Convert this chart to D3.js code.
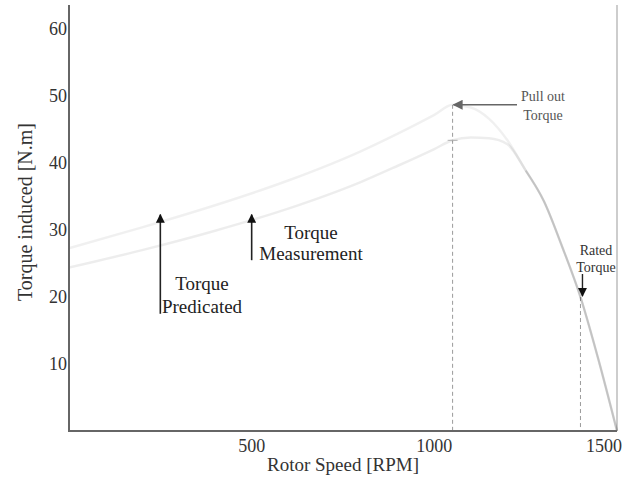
<!DOCTYPE html>
<html>
<head>
<meta charset="utf-8">
<script src="https://cdn.jsdelivr.net/npm/d3@7"></script>
<style>
  body { margin: 0; background: #fff; }
  text { font-family: "Liberation Serif", "DejaVu Serif", serif; }
</style>
</head>
<body>
<div id="chart"></div>
<script>
// rotor speed samples [RPM]
const speed = [0, 200, 400, 600, 800, 900, 1000, 1050, 1100, 1150, 1200, 1250, 1300, 1350, 1400, 1450, 1500];
// torque predicted (upper curve) [N.m]
const torquePredicted = [27.3, 30.4, 33.7, 37.4, 41.8, 44.4, 47.2, 48.7, 48.3, 46.6, 43.4, 38.9, 34.3, 27.5, 20, 10.5, 0];
// torque measured (lower curve) [N.m]
const torqueMeasured = [24.4, 27, 29.9, 33.2, 37.2, 39.6, 42.1, 43.4, 43.8, 43.7, 42.8, 38.9, 34.3, 27.5, 20, 10.5, 0];

const yTicks = [10, 20, 30, 40, 50, 60];
const xTicks = [500, 1000, 1500];

const pullOut = { speed: 1050, torque: 48.7, measured: 43.4 };
const rated = { speed: 1400, torque: 20 };
const arrowPred = { speed: 250, torque: 32.3, base: 17.5 };
const arrowMeas = { speed: 500, torque: 32.3, base: 25.5 };

const width = 638, height = 479;
const svg = d3.select('#chart').append('svg').attr('width', width).attr('height', height);

const x = d3.scaleLinear().domain([0, 1500]).range([69, 617]);
const y = d3.scaleLinear().domain([0, 63.6]).range([431, 5]);

const defs = svg.append('defs');
function marker(id, color, size) {
  defs.append('marker')
    .attr('id', id)
    .attr('viewBox', '0 0 10 10')
    .attr('refX', 9).attr('refY', 5)
    .attr('markerWidth', size).attr('markerHeight', size)
    .attr('markerUnits', 'userSpaceOnUse')
    .attr('orient', 'auto')
    .append('path').attr('d', 'M0,0 L10,5 L0,10 z').style('fill', color);
}
marker('ahBlack', '#111', 9);
marker('ahGray', '#666', 10);

// right border
svg.append('line')
  .attr('x1', x(1500)).attr('x2', x(1500)).attr('y1', 5).attr('y2', y(0))
  .style('stroke', '#bdbdbd').style('stroke-width', 1.5);

// dashed guide lines
svg.append('line')
  .attr('x1', x(pullOut.speed)).attr('x2', x(pullOut.speed))
  .attr('y1', y(pullOut.torque)).attr('y2', y(0))
  .style('stroke', '#9a9a9a').style('stroke-width', 1).style('stroke-dasharray', '4,3');
svg.append('line')
  .attr('x1', x(pullOut.speed) - 5).attr('x2', x(pullOut.speed) + 5)
  .attr('y1', y(pullOut.measured)).attr('y2', y(pullOut.measured))
  .style('stroke', '#bbb').style('stroke-width', 1);
svg.append('line')
  .attr('x1', x(rated.speed)).attr('x2', x(rated.speed))
  .attr('y1', y(rated.torque)).attr('y2', y(0))
  .style('stroke', '#9a9a9a').style('stroke-width', 1).style('stroke-dasharray', '4,3');

// curves
const line = d3.line()
  .x((d, i) => x(speed[i]))
  .y(d => y(d))
  .curve(d3.curveMonotoneX);

svg.append('path').datum(torquePredicted)
  .attr('d', line)
  .style('fill', 'none').style('stroke', 'rgba(0,0,0,0.06)').style('stroke-width', 2.5);
svg.append('path').datum(torqueMeasured)
  .attr('d', line)
  .style('fill', 'none').style('stroke', 'rgba(0,0,0,0.07)').style('stroke-width', 2.5);
// descending branch is drawn darker in the source
svg.append('path').datum(torqueMeasured.slice(11))
  .attr('d', d3.line().x((d, i) => x(speed[i + 11])).y(d => y(d)).curve(d3.curveMonotoneX))
  .style('fill', 'none').style('stroke', 'rgba(0,0,0,0.12)').style('stroke-width', 2);

// axes
svg.append('line')
  .attr('x1', x(0)).attr('x2', x(0)).attr('y1', 5).attr('y2', y(0))
  .style('stroke', '#666').style('stroke-width', 2);
svg.append('line')
  .attr('x1', x(0) - 1).attr('x2', x(1500)).attr('y1', y(0)).attr('y2', y(0))
  .style('stroke', '#666').style('stroke-width', 2);

svg.selectAll('.ytick')
  .data(yTicks)
  .enter()
  .append('text')
  .attr('class', 'ytick')
  .attr('x', 67)
  .attr('y', d => y(d))
  .attr('dy', '0.35em')
  .attr('text-anchor', 'end')
  .style('font-size', '18px')
  .style('fill', '#333')
  .text(d => d);

svg.selectAll('.xtick')
  .data(xTicks)
  .enter()
  .append('text')
  .attr('class', 'xtick')
  .attr('x', d => (d === 1500 ? x(d) - 13 : x(d)))
  .attr('y', 452)
  .attr('text-anchor', 'middle')
  .style('font-size', '18px')
  .style('fill', '#333')
  .text(d => d);

svg.append('text')
  .attr('x', 343).attr('y', 471)
  .attr('text-anchor', 'middle')
  .style('font-size', '19px')
  .style('fill', '#333')
  .text('Rotor Speed [RPM]');

svg.append('text')
  .attr('transform', 'translate(32,212) rotate(-90)')
  .attr('text-anchor', 'middle')
  .style('font-size', '20px')
  .style('fill', '#333')
  .text('Torque induced [N.m]');

// annotation arrows
function vArrow(a) {
  svg.append('line')
    .attr('x1', x(a.speed)).attr('x2', x(a.speed))
    .attr('y1', y(a.base)).attr('y2', y(a.torque))
    .attr('marker-end', 'url(#ahBlack)')
    .style('stroke', '#222').style('stroke-width', 1.6);
}
vArrow(arrowPred);
vArrow(arrowMeas);

function label(lines, cx, y0, size, color, gap) {
  lines.forEach((t, i) => {
    svg.append('text')
      .attr('x', cx).attr('y', y0 + i * gap)
      .attr('text-anchor', 'middle')
      .style('font-size', size + 'px')
      .style('fill', color)
      .text(t);
  });
}
label(['Torque', 'Predicated'], 202, 290, 19, '#222', 23);
label(['Torque', 'Measurement'], 311, 239, 19, '#222', 21);

// pull out torque arrow
svg.append('line')
  .attr('x1', 517).attr('x2', x(pullOut.speed) + 1)
  .attr('y1', y(pullOut.torque)).attr('y2', y(pullOut.torque))
  .attr('marker-end', 'url(#ahGray)')
  .style('stroke', '#666').style('stroke-width', 1.6);
label(['Pull out', 'Torque'], 543, 101, 14, '#555', 19);

// rated torque arrow
svg.append('line')
  .attr('x1', x(rated.speed) + 2).attr('x2', x(rated.speed) + 2)
  .attr('y1', 274).attr('y2', y(rated.torque) - 1)
  .attr('marker-end', 'url(#ahBlack)')
  .style('stroke', '#222').style('stroke-width', 1.4);
label(['Rated', 'Torque'], 596, 255, 14, '#333', 17);
</script>
</body>
</html>
